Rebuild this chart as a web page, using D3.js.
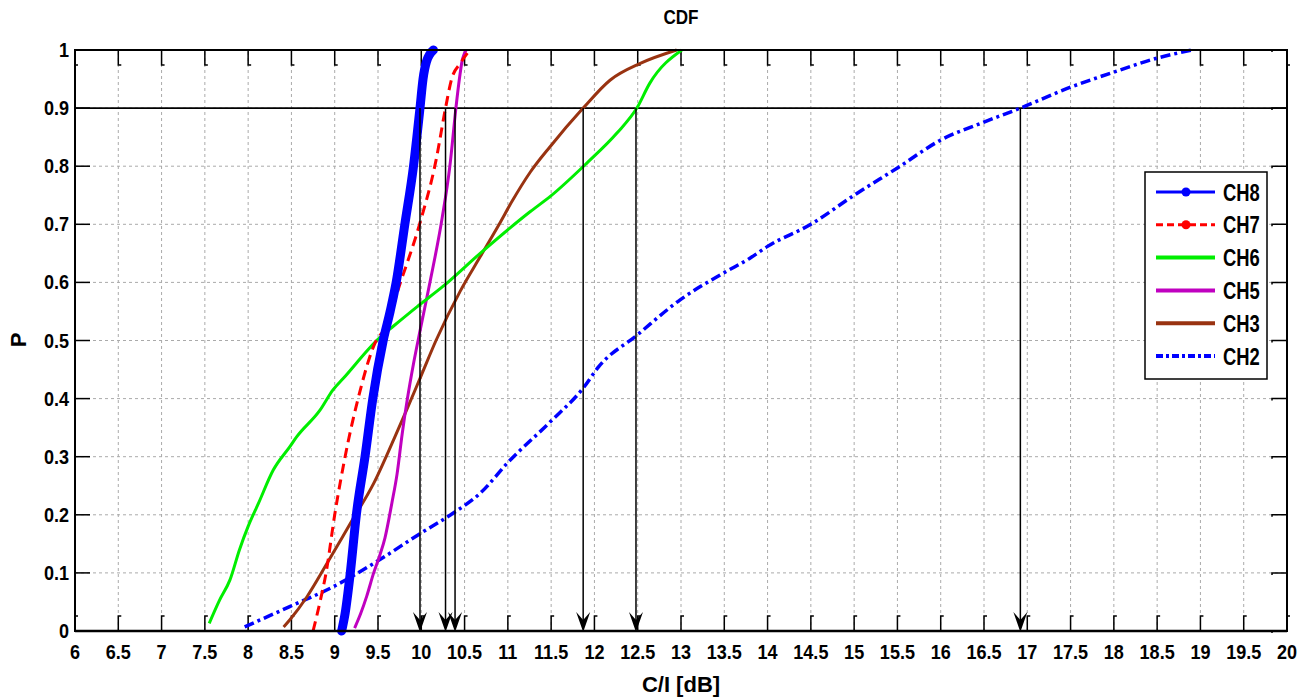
<!DOCTYPE html>
<html><head><meta charset="utf-8">
<script src="https://cdn.jsdelivr.net/npm/d3@7"></script>
<style>
body{margin:0;background:#fff;}
text{font-family:"Liberation Sans",Arial,Helvetica,sans-serif;font-weight:bold;fill:#000;}
</style>
</head><body><svg id="c" width="1310" height="700"></svg>
<script>
// ---------- data ----------
const xTicks = [6,6.5,7,7.5,8,8.5,9,9.5,10,10.5,11,11.5,12,12.5,13,13.5,14,14.5,15,15.5,16,16.5,17,17.5,18,18.5,19,19.5,20];
const yTicks = [0,0.1,0.2,0.3,0.4,0.5,0.6,0.7,0.8,0.9,1];
const seriesNames = ["CH8","CH7","CH6","CH5","CH3","CH2"];

const ch8X = [9.08,9.12,9.18,9.25,9.35,9.44,9.56,9.64,9.71,9.81,9.91,9.985,10.02,10.06,10.14];
const ch8P = [0,0.03,0.1,0.2,0.3,0.4,0.5,0.55,0.6,0.7,0.8,0.9,0.95,0.98,1.0];

const ch7X = [8.75,8.83,8.9,9.0,9.12,9.27,9.48,9.58,9.76,9.98,10.17,10.28,10.35,10.45,10.56];
const ch7P = [0,0.05,0.1,0.2,0.3,0.4,0.5,0.52,0.6,0.7,0.81,0.9,0.95,0.977,1.0];

const ch6X = [7.55,7.67,7.79,7.9,8.0,8.12,8.29,8.48,8.56,8.83,8.98,9.1,9.52,9.68,9.95,10.25,10.68,11.26,11.49,11.91,12.26,12.49,12.64,13.01];
const ch6P = [0.013,0.053,0.088,0.14,0.18,0.22,0.277,0.317,0.334,0.38,0.415,0.435,0.505,0.525,0.558,0.593,0.65,0.722,0.748,0.805,0.857,0.9,0.943,1.0];

const ch5X = [9.23,9.3,9.37,9.45,9.52,9.58,9.66,9.72,9.78,9.84,9.91,9.99,10.1,10.24,10.33,10.4,10.44,10.47,10.52];
const ch5P = [0.005,0.03,0.06,0.1,0.13,0.16,0.22,0.27,0.34,0.4,0.46,0.52,0.6,0.71,0.8,0.9,0.95,0.98,1.0];

const ch3X = [8.41,8.48,8.68,8.91,9.18,9.45,9.68,9.83,10.0,10.17,10.45,10.68,10.9,11.05,11.26,11.49,11.87,12.18,12.53,12.95];
const ch3P = [0.007,0.019,0.059,0.116,0.185,0.254,0.329,0.38,0.44,0.5,0.585,0.644,0.7,0.74,0.79,0.834,0.9,0.948,0.977,1.0];

const ch2X = [7.96,8.48,8.98,9.48,9.99,10.37,10.68,11.0,11.49,11.87,12.05,12.49,12.99,13.49,13.8,14.0,14.5,15.0,15.5,16.0,16.5,16.92,17.5,18.0,18.5,18.9];
const ch2P = [0.007,0.042,0.076,0.119,0.168,0.203,0.237,0.29,0.36,0.418,0.455,0.509,0.57,0.616,0.642,0.662,0.7,0.75,0.797,0.845,0.876,0.9,0.936,0.962,0.986,1.0];

const arrowX = [9.985,10.28,10.39,11.87,12.48,16.92];
const refP = 0.9;

// ---------- setup ----------
const svg = d3.select("#c");
svg.append("rect").attr("width",1310).attr("height",700).attr("fill","#fff");
const x = d3.scaleLinear().domain([6,20]).range([75,1287]);
const y = d3.scaleLinear().domain([0,1]).range([631,50]);

const g = svg.append("g");

// grid
g.selectAll(".gx").data(xTicks.slice(1,-1)).enter().append("line")
  .attr("x1",d=>x(d)).attr("x2",d=>x(d)).attr("y1",y(0)).attr("y2",y(1))
  .attr("stroke","#aaaaaa").attr("stroke-width",1).attr("stroke-dasharray","3,3");
g.selectAll(".gy").data(yTicks.slice(1,-1)).enter().append("line")
  .attr("x1",x(6)).attr("x2",x(20)).attr("y1",d=>y(d)).attr("y2",d=>y(d))
  .attr("stroke","#aaaaaa").attr("stroke-width",1).attr("stroke-dasharray","3,3");

// reference line at 0.9
g.append("line").attr("x1",x(6)).attr("x2",x(20)).attr("y1",y(refP)).attr("y2",y(refP))
  .attr("stroke","#000").attr("stroke-width",1.6);

// ticks (inward, with hooks)
xTicks.forEach(v=>{
  const px = x(v);
  g.append("path").attr("d",`M${px},${y(0)} L${px},${y(0)-15} L${px+3},${y(0)-15}`)
    .attr("fill","none").attr("stroke","#000").attr("stroke-width",1.5);
  g.append("path").attr("d",`M${px},${y(1)} L${px},${y(1)+15} L${px+3},${y(1)+15}`)
    .attr("fill","none").attr("stroke","#000").attr("stroke-width",1.5);
});
yTicks.forEach(v=>{
  const py = y(v);
  g.append("path").attr("d",`M${x(6)},${py} L${x(6)+15},${py}`)
    .attr("fill","none").attr("stroke","#000").attr("stroke-width",1.5);
  g.append("path").attr("d",`M${x(20)},${py} L${x(20)-15},${py} L${x(20)-15},${py+2}`)
    .attr("fill","none").attr("stroke","#000").attr("stroke-width",1.5);
});

// tick labels
svg.selectAll(".xl").data(xTicks).enter().append("text")
  .attr("transform",d=>`translate(${x(d)},659) scale(0.95,1.08)`).attr("text-anchor","middle")
  .attr("font-size",19).text(d=>String(d));
svg.selectAll(".yl").data(yTicks).enter().append("text")
  .attr("transform",d=>`translate(69,${y(d)+7}) scale(0.95,1.08)`).attr("text-anchor","end")
  .attr("font-size",19).text(d=>String(d));

// series
const series = [
  {name:"CH8", xs:ch8X, ps:ch8P, color:"#0000ff", w:3, dash:null, marker:true},
  {name:"CH7", xs:ch7X, ps:ch7P, color:"#ff0000", w:3, dash:"10,6", marker:true},
  {name:"CH6", xs:ch6X, ps:ch6P, color:"#00ee00", w:3, dash:null},
  {name:"CH5", xs:ch5X, ps:ch5P, color:"#c000c0", w:3, dash:null},
  {name:"CH3", xs:ch3X, ps:ch3P, color:"#993311", w:3, dash:null},
  {name:"CH2", xs:ch2X, ps:ch2P, color:"#0000ff", w:3.5, dash:"10,4,3,4"}
];
const line = d3.line().x(d=>x(d[0])).y(d=>y(d[1])).curve(d3.curveMonotoneX);

[5,4,3,2,1,0].forEach(i=>{
  const s = series[i];
  const pts = s.xs.map((v,k)=>[v,s.ps[k]]);
  if (s.name==="CH8") {
    g.append("path").datum(pts).attr("d",line).attr("fill","none")
      .attr("stroke",s.color).attr("stroke-width",9)
      .attr("stroke-linecap","round").attr("stroke-linejoin","round");
  } else {
    const p = g.append("path").datum(pts).attr("d",line).attr("fill","none")
      .attr("stroke",s.color).attr("stroke-width",s.w).attr("stroke-linejoin","round");
    if (s.dash) p.attr("stroke-dasharray",s.dash);
  }
});

// arrows
arrowX.forEach(v=>{
  const px = x(v), top = y(refP), bot = y(0)+1;
  g.append("line").attr("x1",px).attr("x2",px).attr("y1",top).attr("y2",bot-4)
    .attr("stroke","#000").attr("stroke-width",1.5);
  g.append("path").attr("d",`M${px},${bot} L${px-7},${bot-20} L${px},${bot-12} L${px+7},${bot-20} Z`)
    .attr("fill","#000");
});

// frame
g.append("rect").attr("x",x(6)).attr("y",y(1)).attr("width",x(20)-x(6)).attr("height",y(0)-y(1))
  .attr("fill","none").attr("stroke","#000").attr("stroke-width",2);
g.append("line").attr("x1",x(6)).attr("x2",x(20)).attr("y1",y(0)).attr("y2",y(0))
  .attr("stroke","#000").attr("stroke-width",2.5);

// legend
const lg = svg.append("g");
lg.append("rect").attr("x",1145).attr("y",172).attr("width",122).attr("height",207)
  .attr("fill","#fff").attr("stroke","#000").attr("stroke-width",1.5);
series.forEach((s,i)=>{
  const ly = 192 + i*32.8;
  const l = lg.append("line").attr("x1",1156).attr("x2",1215).attr("y1",ly).attr("y2",ly)
    .attr("stroke",s.color).attr("stroke-width", s.name==="CH8"||s.name==="CH7" ? 3 : 4);
  if (s.dash) l.attr("stroke-dasharray", s.name==="CH2" ? "7,3,3,3" : "7,4");
  if (s.marker) lg.append("circle").attr("cx",1186).attr("cy",ly).attr("r",4.5).attr("fill",s.color);
  lg.append("text").attr("transform",`translate(1223,${ly+8.5}) scale(0.8,1)`)
    .attr("font-size",23).text(s.name);
});

// titles
svg.append("text").attr("transform","translate(681,24) scale(0.9,1.1)").attr("text-anchor","middle")
  .attr("font-size",19).text("CDF");
svg.append("text").attr("x",681).attr("y",692).attr("text-anchor","middle")
  .attr("font-size",22).text("C/I [dB]");
svg.append("text").attr("transform","translate(26,340) rotate(-90)").attr("text-anchor","middle")
  .attr("font-size",22).text("P");
</script>
</body></html>
